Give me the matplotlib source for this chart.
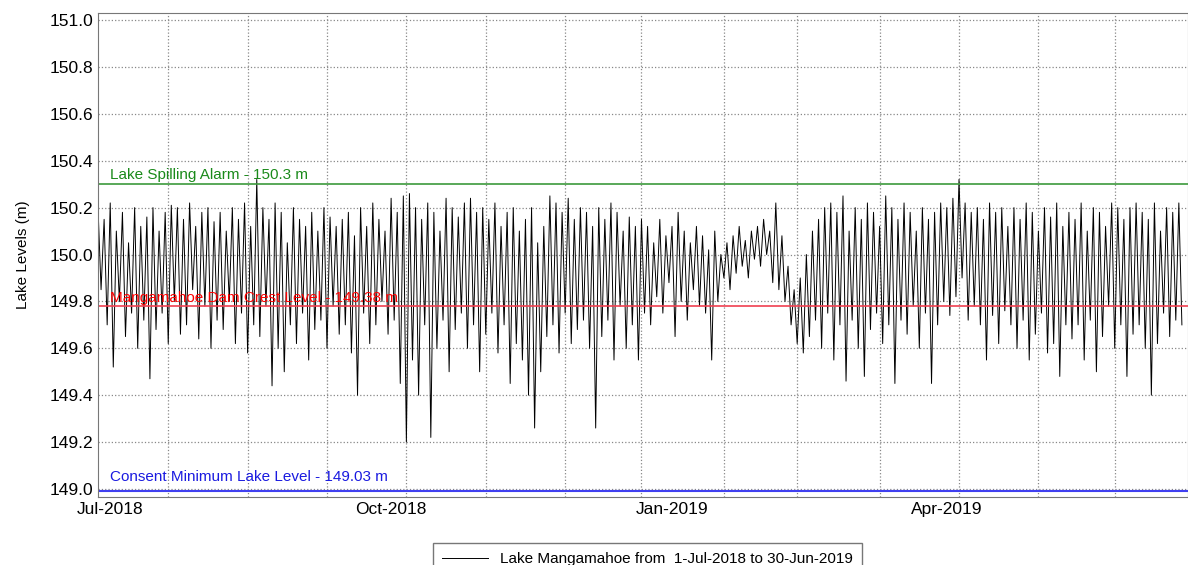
import numpy as np
import matplotlib.pyplot as plt

plt.rcParams['font.family'] = ['Liberation Sans', 'DejaVu Sans']

# days since 1-Jul-2018, one high/low pair every 2 days
start_day = -4
lake_hi = [150.20,150.15,150.22,150.10,150.18,150.05,150.20,150.12,150.16,150.20,
           150.10,150.18,150.21,150.20,150.15,150.22,150.12,150.18,150.20,150.14,
           150.18,150.10,150.20,150.15,150.22,150.12,150.32,150.20,150.15,150.22,
           150.18,150.05,150.20,150.15,150.12,150.18,150.10,150.20,150.16,150.12,
           150.15,150.18,150.08,150.20,150.12,150.22,150.15,150.10,150.24,150.18,
           150.25,150.26,150.20,150.15,150.22,150.18,150.10,150.24,150.20,150.16,
           150.22,150.24,150.18,150.20,150.15,150.22,150.12,150.18,150.20,150.10,
           150.15,150.20,150.05,150.12,150.25,150.22,150.18,150.24,150.15,150.20,
           150.18,150.12,150.20,150.15,150.22,150.18,150.10,150.16,150.12,150.15,
           150.12,150.05,150.15,150.08,150.12,150.18,150.10,150.05,150.12,150.08,
           150.02,150.10,150.00,150.05,150.08,150.12,150.06,150.10,150.12,150.15,
           150.10,150.22,150.08,149.95,149.85,149.90,150.00,150.10,150.15,150.20,
           150.22,150.18,150.25,150.10,150.20,150.15,150.22,150.18,150.12,150.25,
           150.20,150.15,150.22,150.18,150.10,150.20,150.15,150.18,150.22,150.20,
           150.24,150.32,150.22,150.18,150.20,150.15,150.22,150.18,150.20,150.12,
           150.20,150.15,150.22,150.18,150.10,150.20,150.16,150.22,150.12,150.18,
           150.15,150.22,150.10,150.20,150.18,150.12,150.22,150.20,150.15,150.20,
           150.22,150.18,150.15,150.22,150.10,150.20,150.18,150.22]
lake_lo = [149.85,149.70,149.52,149.80,149.65,149.75,149.60,149.72,149.47,149.68,
           149.75,149.62,149.80,149.66,149.70,149.85,149.64,149.78,149.60,149.72,
           149.68,149.80,149.62,149.75,149.58,149.70,149.65,149.78,149.44,149.60,
           149.50,149.70,149.62,149.75,149.55,149.68,149.72,149.60,149.78,149.66,
           149.70,149.58,149.40,149.75,149.62,149.70,149.80,149.66,149.72,149.45,
           149.20,149.55,149.40,149.70,149.22,149.60,149.72,149.50,149.68,149.75,
           149.60,149.70,149.50,149.66,149.75,149.58,149.70,149.45,149.62,149.55,
           149.40,149.26,149.50,149.65,149.70,149.58,149.75,149.62,149.68,149.72,
           149.60,149.26,149.65,149.72,149.55,149.78,149.60,149.70,149.55,149.75,
           149.70,149.82,149.75,149.88,149.65,149.80,149.72,149.85,149.78,149.75,
           149.55,149.80,149.90,149.85,149.92,149.95,149.90,149.98,149.95,150.00,
           149.88,149.85,149.80,149.70,149.62,149.58,149.65,149.72,149.60,149.75,
           149.55,149.70,149.46,149.72,149.60,149.48,149.68,149.75,149.62,149.70,
           149.45,149.72,149.66,149.78,149.60,149.75,149.45,149.70,149.80,149.74,
           149.82,149.90,149.72,149.78,149.70,149.55,149.74,149.62,149.76,149.70,
           149.60,149.72,149.55,149.66,149.75,149.58,149.62,149.48,149.70,149.64,
           149.70,149.55,149.72,149.50,149.65,149.78,149.60,149.70,149.48,149.66,
           149.70,149.60,149.40,149.62,149.75,149.65,149.72,149.70]

spill_alarm = 150.30
crest_level = 149.78
consent_min = 148.99

tick_days = [0, 92, 184, 274]
tick_labels = ["Jul-2018", "Oct-2018", "Jan-2019", "Apr-2019"]
grid_days = [19, 45, 71, 97, 123, 149, 174, 201, 225, 252, 278, 304, 329]

n = len(lake_hi)
t = start_day + 2 * np.arange(n)
days = np.empty(2 * n)
levels = np.empty(2 * n)
days[0::2] = t
days[1::2] = t + 1
levels[0::2] = lake_hi
levels[1::2] = lake_lo

fig = plt.figure(figsize=(11.88, 5.65), dpi=100)
ax = fig.add_axes([0.0825, 0.12, 0.9175, 0.857])

ax.plot(days, levels, color="black", lw=0.7, label="Lake Mangamahoe from  1-Jul-2018 to 30-Jun-2019")
ax.axhline(spill_alarm, color="#3c9a3c", lw=1.2)
ax.axhline(crest_level, color="#f04050", lw=1.2)
ax.axhline(consent_min, color="#4040f0", lw=1.5)
ax.text(0, spill_alarm + 0.01, "Lake Spilling Alarm - 150.3 m", color="#1a8a1a", fontsize=11, va="bottom")
ax.text(0, crest_level + 0.005, "Mangamahoe Dam Crest Level - 149.38 m", color="red", fontsize=11, va="bottom")
ax.text(0, consent_min + 0.03, "Consent Minimum Lake Level - 149.03 m", color="#1a1ae0", fontsize=11, va="bottom")

ax.set_xlim(-4, 353)
ax.set_ylim(148.965, 151.03)
ax.set_yticks(np.arange(149.0, 151.01, 0.2))
ax.set_yticklabels([f"{v:.1f}" for v in np.arange(149.0, 151.01, 0.2)])
ax.set_xticks(tick_days)
ax.set_xticklabels(tick_labels)
ax.set_xticks(grid_days, minor=True)
ax.tick_params(axis="both", length=0, labelsize=12.5)
ax.tick_params(axis="x", which="minor", length=0)
ax.grid(True, axis="y", ls=":", color="#888888", lw=0.9)
ax.grid(True, axis="x", which="minor", ls=":", color="#888888", lw=0.9)
for s in ax.spines.values():
    s.set_color("#777777")
ax.set_ylabel("Lake Levels (m)", fontsize=11, labelpad=14)

fig.legend(loc="upper center", bbox_to_anchor=(0.545, 0.052), fancybox=False,
           edgecolor="#555555", fontsize=11, handlelength=3, borderpad=0.6)

fig.savefig("out.png", dpi=100)
